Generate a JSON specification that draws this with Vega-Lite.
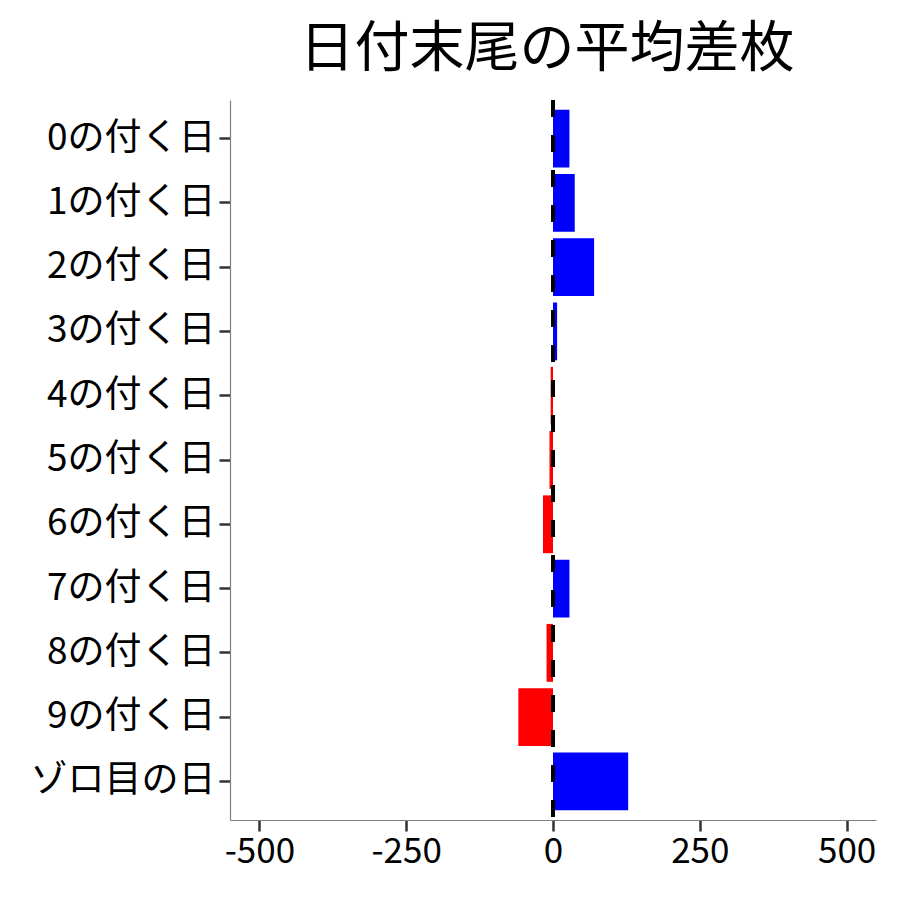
{
  "$schema": "https://vega.github.io/schema/vega-lite/v6.json",
  "autosize": {"type": "none"},
  "padding": {"left": 230, "top": 100, "right": 24, "bottom": 80},
  "width": 646,
  "height": 720,
  "background": "white",
  "config": {
    "font": "Noto Sans CJK JP",
    "view": {"stroke": null},
    "axis": {"grid": false}
  },
  "title": {
    "text": "日付末尾の平均差枚",
    "font": "Noto Sans CJK JP",
    "fontSize": 55,
    "fontWeight": "normal",
    "color": "black",
    "anchor": "middle",
    "dx": -6,
    "offset": 20
  },
  "data": {
    "values": [
      {"label": "0の付く日", "value": 28},
      {"label": "1の付く日", "value": 37},
      {"label": "2の付く日", "value": 70},
      {"label": "3の付く日", "value": 7},
      {"label": "4の付く日", "value": -4},
      {"label": "5の付く日", "value": -6},
      {"label": "6の付く日", "value": -17},
      {"label": "7の付く日", "value": 28},
      {"label": "8の付く日", "value": -11},
      {"label": "9の付く日", "value": -59},
      {"label": "ゾロ目の日", "value": 128}
    ]
  },
  "layer": [
    {
      "mark": {"type": "bar"},
      "encoding": {
        "y": {
          "field": "label",
          "type": "nominal",
          "sort": null,
          "title": null,
          "scale": {"paddingInner": 0.1, "paddingOuter": 0.15},
          "axis": {
            "labelFontSize": 37,
            "labelLimit": 400,
            "labelColor": "black",
            "labelPadding": 4,
            "tickSize": 11,
            "tickWidth": 2.5,
            "tickColor": "#333333",
            "domainColor": "#7f7f7f",
            "domainWidth": 1.2
          }
        },
        "x": {
          "field": "value",
          "type": "quantitative",
          "title": null,
          "scale": {"domain": [-550, 550], "nice": false, "zero": false},
          "axis": {
            "values": [-500, -250, 0, 250, 500],
            "labelExpr": "datum.value < 0 ? '-' + abs(datum.value) : '' + datum.value",
            "labelFontSize": 35,
            "labelColor": "black",
            "labelPadding": 3,
            "tickSize": 11,
            "tickWidth": 2.5,
            "tickColor": "#333333",
            "domainColor": "#7f7f7f",
            "domainWidth": 1.2
          }
        },
        "color": {
          "condition": {"test": "datum.value < 0", "value": "#FF0000"},
          "value": "#0000FF"
        }
      }
    },
    {
      "mark": {"type": "rule", "color": "black", "strokeWidth": 3.5, "strokeDash": [17, 18]},
      "encoding": {
        "x": {"datum": 0, "type": "quantitative"}
      }
    }
  ]
}
